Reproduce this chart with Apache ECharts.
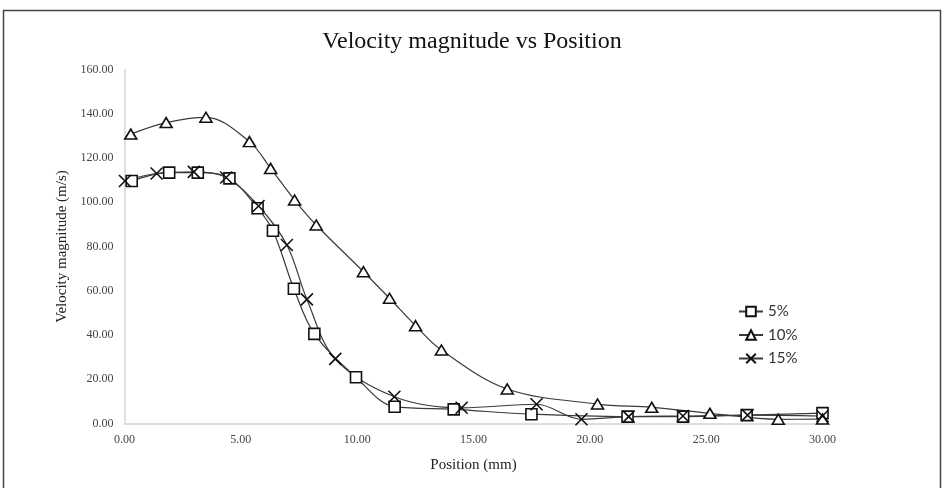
<!DOCTYPE html>
<html>
<head>
<meta charset="utf-8">
<title>Velocity magnitude vs Position</title>
<script src="https://cdn.jsdelivr.net/npm/echarts@6/dist/echarts.min.js"></script>
<style>
  html, body { margin: 0; padding: 0; background: #fff; }
  #chart { width: 944px; height: 488px; }
</style>
</head>
<body>
<div id="chart"></div>
<script>
    // position (mm) / velocity (m/s)
    const pos5 = [0.31, 1.92, 3.15, 4.51, 5.72, 6.38, 7.28, 8.16, 9.95, 11.61, 14.15, 17.49, 21.62, 24.01, 26.74, 30.0];
    const vel5 = [109.6, 113.4, 113.4, 110.8, 97.3, 87.1, 60.9, 40.5, 20.9, 7.6, 6.4, 4.2, 3.1, 3.1, 3.8, 4.7];

    const pos10 = [0.27, 1.79, 3.50, 5.37, 6.28, 7.31, 8.24, 10.27, 11.39, 12.51, 13.62, 16.45, 20.33, 22.66, 25.16, 28.10, 30.0];
    const vel10 = [130.8, 136.0, 138.4, 127.4, 115.3, 101.0, 89.7, 68.6, 56.6, 44.2, 33.2, 15.6, 8.8, 7.3, 4.6, 1.9, 2.0];

    const pos15 = [0.02, 1.38, 2.98, 4.37, 5.76, 6.98, 7.84, 9.06, 11.60, 14.49, 17.71, 19.64, 21.67, 24.0, 26.78, 30.0];
    const vel15 = [109.6, 113.0, 113.7, 111.2, 98.3, 80.7, 56.1, 29.2, 12.1, 7.1, 8.7, 1.9, 3.1, 3.4, 3.8, 3.4];

    const seriesNames = ['5%', '10%', '15%'];

    function pairs(xs, ys) {
        return xs.map((x, i) => [x, ys[i]]);
    }

    let serif = '"Liberation Serif", "DejaVu Serif", serif';
    let cross = 'path://M0,0L10,10M10,0L0,10';

    let chart = echarts.init(document.getElementById('chart'));
    let lineStyle = { color: '#3a3a3a', width: 1.2 };
    let itemStyle = { color: '#fff', borderColor: '#111', borderWidth: 1.6 };

    let option = {
        animation: false,
        backgroundColor: '#fff',
        title: {
            text: 'Velocity magnitude vs Position',
            left: 'center',
            top: 25,
            textStyle: { fontFamily: serif, fontSize: 24, fontWeight: 'normal', color: '#111' }
        },
        graphic: [{
            type: 'rect',
            shape: { x: 3.5, y: 10.5, width: 937, height: 490 },
            style: { fill: 'none', stroke: '#444', lineWidth: 1.5 },
            silent: true
        }],
        legend: {
            orient: 'vertical',
            left: 733,
            top: 299,
            itemWidth: 24,
            itemHeight: 12,
            itemGap: 8.5,
            textStyle: { fontFamily: 'Lato, "Open Sans", sans-serif', fontSize: 15, color: '#333' },
            data: seriesNames
        },
        grid: { left: 124.5, right: 121.5, top: 69.5, bottom: 64.5 },
        xAxis: {
            type: 'value',
            min: 0,
            max: 30,
            interval: 5,
            name: 'Position (mm)',
            nameLocation: 'middle',
            nameGap: 34,
            nameTextStyle: { fontFamily: serif, fontSize: 15, color: '#222' },
            axisLine: { lineStyle: { color: '#d4d4d4', width: 1.5 } },
            axisTick: { show: false },
            splitLine: { show: false },
            axisLabel: {
                margin: 10,
                fontFamily: serif,
                fontSize: 12,
                color: '#444',
                formatter: v => v.toFixed(2)
            }
        },
        yAxis: {
            type: 'value',
            min: 0,
            max: 160,
            interval: 20,
            name: 'Velocity magnitude (m/s)',
            nameLocation: 'middle',
            nameGap: 52,
            nameTextStyle: { fontFamily: serif, fontSize: 15, color: '#222' },
            axisLine: { show: true, lineStyle: { color: '#d4d4d4', width: 1.5 } },
            axisTick: { show: false },
            splitLine: { show: false },
            axisLabel: {
                margin: 11,
                fontFamily: serif,
                fontSize: 12,
                color: '#444',
                formatter: v => v.toFixed(2)
            }
        },
        series: [
            {
                name: '5%',
                type: 'line',
                smooth: 0.35,
                symbol: 'rect',
                symbolSize: 11,
                lineStyle: lineStyle,
                itemStyle: itemStyle,
                data: pairs(pos5, vel5)
            },
            {
                name: '10%',
                type: 'line',
                smooth: 0.35,
                symbol: 'triangle',
                symbolSize: [12, 10],
                lineStyle: lineStyle,
                itemStyle: itemStyle,
                data: pairs(pos10, vel10)
            },
            {
                name: '15%',
                type: 'line',
                smooth: 0.35,
                symbol: cross,
                symbolSize: 12,
                lineStyle: lineStyle,
                itemStyle: itemStyle,
                data: pairs(pos15, vel15)
            }
        ]
    };
    chart.setOption(option, true);
    window.addEventListener('resize', function () {
        chart.resize();
    });
</script>
</body>
</html>
